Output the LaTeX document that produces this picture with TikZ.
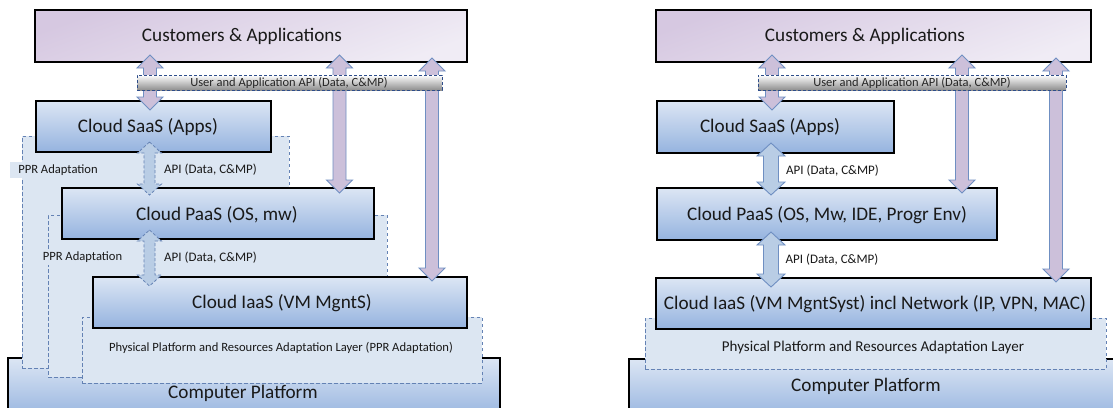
\documentclass[tikz,border=0pt]{standalone}
\usepackage{fontspec}
\setmainfont{Carlito}
\definecolor{boxtop}{HTML}{DCE6F4}
\definecolor{boxbot}{HTML}{95B3DF}
\definecolor{custA}{HTML}{D6C8E1}
\definecolor{custB}{HTML}{F0ECF5}
\definecolor{regfill}{HTML}{DCE6F2}
\definecolor{regline}{HTML}{6482B4}
\definecolor{arrfill}{HTML}{CCC0DA}
\definecolor{arrline}{HTML}{6F8FC2}
\definecolor{smallfill}{HTML}{B9CDE5}
\definecolor{bartop}{HTML}{FFFFFF}
\definecolor{barmid}{HTML}{DADADA}
\definecolor{barbot}{HTML}{8E8E8E}
\definecolor{barline}{HTML}{2E4D8A}
\newcommand\vblockarrow[7]{% style, x, ytop, ybot, shaft half, head half, head length
  \draw[#1] (#2,#3) -- ({#2+#6},{#3+#7}) -- ({#2+#5},{#3+#7}) -- ({#2+#5},{#4-#7})
    -- ({#2+#6},{#4-#7}) -- (#2,#4) -- ({#2-#6},{#4-#7}) -- ({#2-#5},{#4-#7})
    -- ({#2-#5},{#3+#7}) -- ({#2-#6},{#3+#7}) -- cycle;}
\begin{document}
\begin{tikzpicture}[x=1pt,y=-1pt,
  bluebox/.style={draw=black, line width=1.8pt, top color=boxtop, bottom color=boxbot, inner sep=0pt},
  custbox/.style={draw=black, line width=1.8pt, shading=axis, top color=custA, bottom color=custB, shading angle=20, inner sep=0pt},
  region/.style={draw=regline, line width=0.8pt, dash pattern=on 3.5pt off 2.5pt, fill=regfill, inner sep=0pt},
  apibar/.style={draw=barline, line width=1pt, dash pattern=on 3pt off 2pt, top color=bartop, middle color=barmid, bottom color=barbot, inner sep=0pt},
  bigarrow/.style={fill=arrfill, draw=arrline, line width=0.9pt, line join=miter},
  dasharrow/.style={fill=smallfill, draw=regline, line width=0.8pt, dash pattern=on 3pt off 2pt},
  solidarrow/.style={fill=smallfill, draw=arrline, line width=0.9pt},
  bigtxt/.style={font=\fontsize{19.2}{22}\selectfont, inner sep=0pt, text=black!90},
  smalltxt/.style={font=\fontsize{13}{15}\selectfont, inner sep=0pt, text=black!90},
  bartxt/.style={font=\fontsize{12.5}{14}\selectfont, inner sep=0pt, text=black!85},
  pprlabel/.style={font=\fontsize{12.6}{14}\selectfont, fill=regfill, inner xsep=8pt, inner ysep=3pt, text=black!90}
]
\clip (0,0) rectangle (1113,407);
\fill[white] (0,0) rectangle (1113,407);

% ---------- LEFT ----------
\node[bluebox, minimum width=492, minimum height=62] (compL) at (254,389) {};
\node[region, minimum width=267, minimum height=232] (r1) at (155.5,252) {};
\node[region, minimum width=339, minimum height=162] (r2) at (217.5,296) {};
\node[region, minimum width=400, minimum height=66] (r3) at (282,350) {};
\node[bluebox, minimum width=235, minimum height=51] (saasL) at (153.5,126.5) {};
\node[bluebox, minimum width=312, minimum height=51] (paasL) at (218,213.5) {};
\node[bluebox, minimum width=374, minimum height=51] (iaasL) at (280,302.5) {};
\node[custbox, minimum width=432, minimum height=52] (custL) at (251,36) {};
\node[pprlabel] (ppr1) at (58,170) {PPR Adaptation};
\node[pprlabel] (ppr2) at (82.5,257) {PPR Adaptation};

\vblockarrow{bigarrow}{150}{55}{110}{6.5}{13}{13}
\vblockarrow{bigarrow}{339.5}{55}{193}{6.5}{13}{13}
\vblockarrow{bigarrow}{432}{58}{281}{6.5}{13}{13}
\vblockarrow{dasharrow}{149.5}{142}{195}{5.5}{12}{11}
\vblockarrow{dasharrow}{149.5}{230}{286}{5.5}{12}{11}

\node[apibar, minimum width=305, minimum height=15] (barL) at (289.5,82.5) {};

\node[bigtxt] at (242,36) {Customers \& Applications};
\node[bartxt] at (289,82.5) {User and Application API (Data, C\&MP)};
\node[bigtxt] at (148,127) {Cloud SaaS (Apps)};
\node[smalltxt] at (210.5,170) {API (Data, C\&MP)};
\node[bigtxt] at (217,215) {Cloud PaaS (OS, mw)};
\node[smalltxt] at (210.5,258) {API (Data, C\&MP)};
\node[bigtxt] at (282,303) {Cloud IaaS (VM MgntS)};
\node[smalltxt, font=\fontsize{12.6}{14}\selectfont] at (281,348) {Physical Platform and Resources Adaptation Layer (PPR Adaptation)};
\node[bigtxt] at (243,393) {Computer Platform};

% ---------- RIGHT ----------
\node[bluebox, minimum width=496, minimum height=61] (compR) at (877,389.5) {};
\node[region, minimum width=461, minimum height=51] (rR) at (875.5,343.5) {};
\node[bluebox, minimum width=237, minimum height=52] (saasR) at (775.5,127) {};
\node[bluebox, minimum width=340, minimum height=52] (paasR) at (827,214) {};
\node[bluebox, minimum width=435, minimum height=51] (iaasR) at (873.5,303.5) {};
\node[custbox, minimum width=435, minimum height=52] (custR) at (873.5,36) {};

\vblockarrow{bigarrow}{772}{55}{110}{6.5}{13}{13}
\vblockarrow{bigarrow}{962}{55}{193}{6.5}{13}{13}
\vblockarrow{bigarrow}{1056}{58}{282}{6.5}{13}{13}
\vblockarrow{solidarrow}{771}{143}{195}{7.5}{14}{13}
\vblockarrow{solidarrow}{771}{232}{287}{7.5}{14}{13}

\node[apibar, minimum width=308, minimum height=15] (barR) at (912,82.5) {};

\node[bigtxt] at (865,36) {Customers \& Applications};
\node[bartxt] at (912,82.5) {User and Application API (Data, C\&MP)};
\node[bigtxt] at (770,127) {Cloud SaaS (Apps)};
\node[smalltxt] at (832.5,171) {API (Data, C\&MP)};
\node[bigtxt] at (827,215) {Cloud PaaS (OS, Mw, IDE, Progr Env)};
\node[smalltxt] at (832,260) {API (Data, C\&MP)};
\node[bigtxt] at (875,304) {Cloud IaaS (VM MgntSyst) incl Network (IP, VPN, MAC)};
\node[font=\fontsize{15}{17}\selectfont, inner sep=0pt, text=black!90] at (873,347) {Physical Platform and Resources Adaptation Layer};
\node[bigtxt] at (866,386) {Computer Platform};
\end{tikzpicture}
\end{document}
